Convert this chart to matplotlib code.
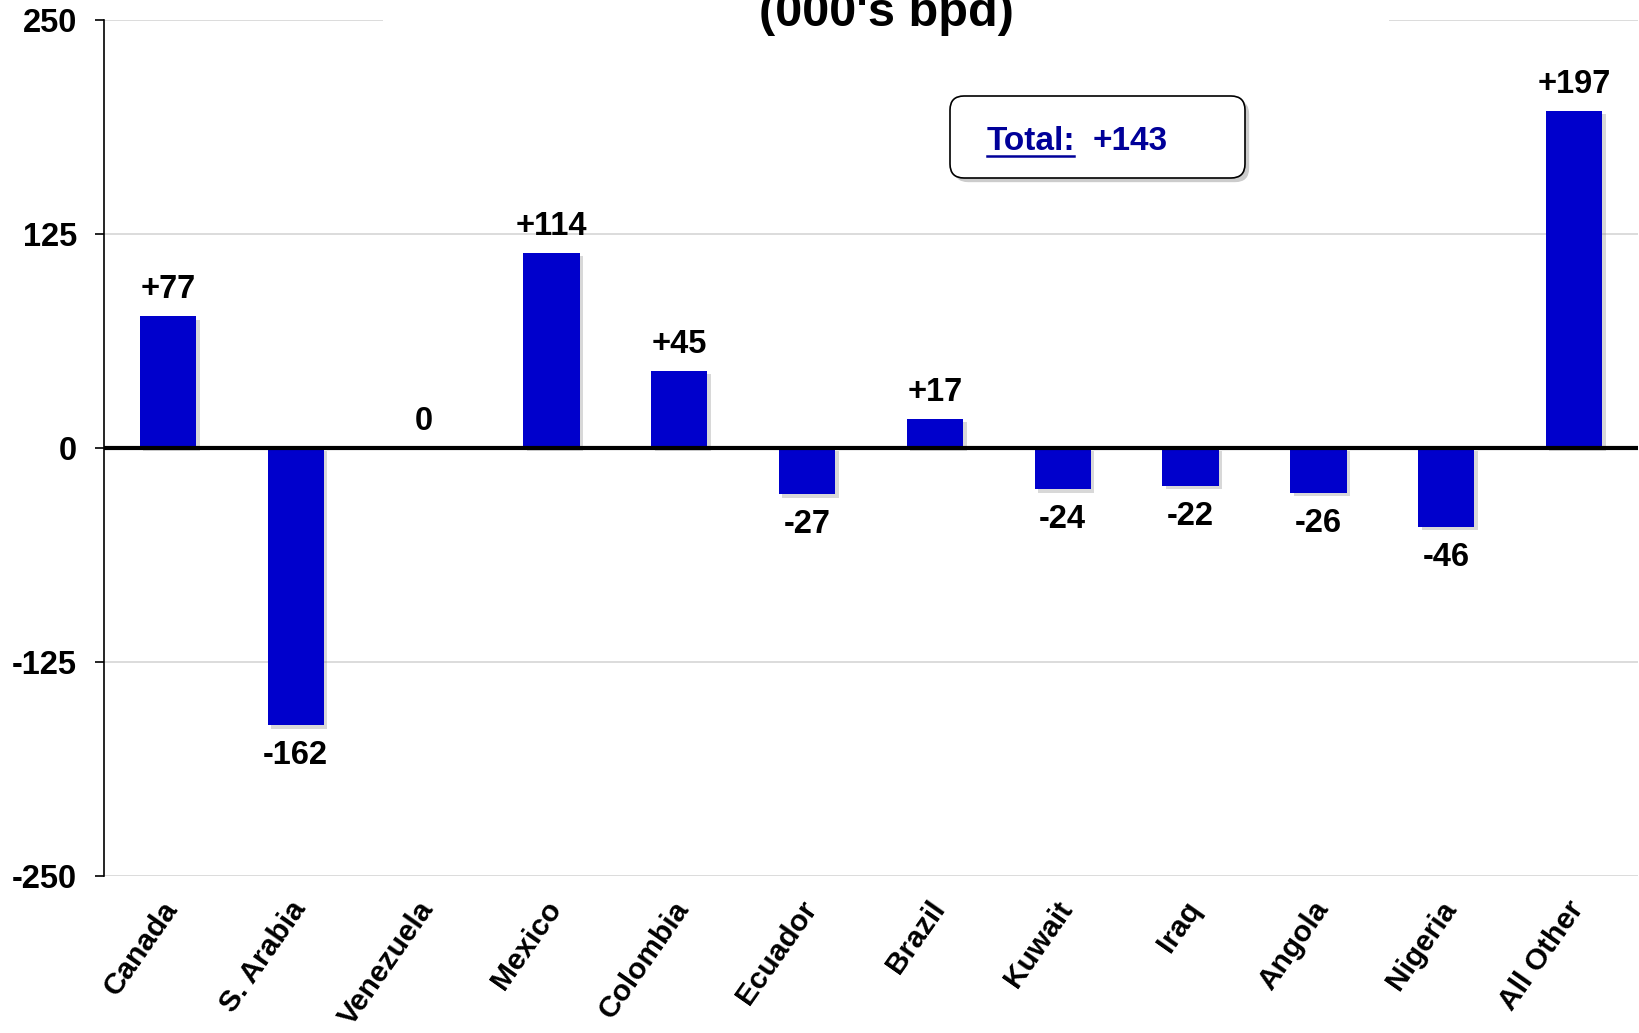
import matplotlib
matplotlib.use('Agg')
import matplotlib.pyplot as plt
import matplotlib.patches as mpatches
import matplotlib.patheffects as pe
from matplotlib.lines import Line2D
from matplotlib.transforms import IdentityTransform, ScaledTranslation

plt.rcParams['font.family'] = ['Liberation Sans', 'DejaVu Sans']
plt.rcParams['font.weight'] = 'bold'

countries = ['Canada', 'S. Arabia', 'Venezuela', 'Mexico', 'Colombia', 'Ecuador',
             'Brazil', 'Kuwait', 'Iraq', 'Angola', 'Nigeria', 'All Other']
changes = [77, -162, 0, 114, 45, -27, 17, -24, -22, -26, -46, 197]
yticks = [-250, -125, 0, 125, 250]
total_label = '+143'
title = "(000's bpd)"

BAR = '#0000CC'
BOX_TXT = '#000099'
W, H = 1640, 1033

fig = plt.figure(figsize=(W / 100, H / 100), dpi=100)
fig.patch.set_facecolor('white')
ax = fig.add_axes([104 / W, 1 - 876 / H, (1638 - 104) / W, (876 - 20) / H])

x = list(range(len(countries)))
bars = ax.bar(x, changes, width=0.44, color=BAR, zorder=3)
for b in bars:
    b.set_path_effects([pe.SimplePatchShadow(offset=(2.5, -2.5), shadow_rgbFace='#808080', alpha=0.3),
                        pe.Normal()])

for xi, v in zip(x, changes):
    lab = f'+{v}' if v > 0 else str(v)
    off = 19 if v >= 0 else -22
    ax.annotate(lab, (xi, v), xytext=(0, off), textcoords='offset points',
                ha='center', va='center', fontsize=23.5, fontweight='bold', color='black')

ax.set_xlim(-0.5, len(countries) - 0.5)
ax.set_ylim(-250, 250)
ax.set_yticks(yticks)
ax.set_yticklabels([str(t) for t in yticks])
ax.set_xticks(x)
ax.set_xticklabels(countries, rotation=55, ha='right', va='center', rotation_mode='anchor')
ax.tick_params(axis='x', length=0, pad=20, labelsize=21.5)
ax.tick_params(axis='y', length=6.5, width=1.2, pad=13, labelsize=23.5)
shift = ScaledTranslation(3 / 72, 0, fig.dpi_scale_trans)
for lbl in ax.get_xticklabels():
    lbl.set_transform(lbl.get_transform() + shift)

ax.yaxis.grid(True, color='#D9D9D9', lw=1.3, zorder=0)
ax.set_axisbelow(True)
for s in ['top', 'right', 'bottom']:
    ax.spines[s].set_visible(False)
ax.spines['left'].set_linewidth(1.2)
ax.axhline(0, color='black', lw=3, zorder=4)

# white band behind the (cropped) title
fig.add_artist(mpatches.Rectangle((383 / W, 1 - 60 / H), (1389 - 383) / W, 60 / H,
                                  transform=fig.transFigure, facecolor='white',
                                  edgecolor='none', zorder=5))
fig.text(886 / W, 1 - 26 / H, title, ha='center', va='baseline',
         fontsize=35, fontweight='bold', color='black', zorder=6)

# total box (pixel coords)
box = mpatches.FancyBboxPatch((950, H - 178), 295, 82, boxstyle='round,pad=0,rounding_size=14',
                              transform=IdentityTransform(), facecolor='white',
                              edgecolor='black', lw=1.2, zorder=6)
box.set_path_effects([pe.SimplePatchShadow(offset=(3, -3), shadow_rgbFace='#808080', alpha=0.4),
                      pe.Normal()])
fig.add_artist(box)
fig.text(987 / W, 1 - 150 / H, 'Total:', ha='left', va='baseline',
         fontsize=24, fontweight='bold', color=BOX_TXT, zorder=7)
fig.add_artist(Line2D([987 / W, 1074 / W], [1 - 156 / H, 1 - 156 / H], transform=fig.transFigure,
                      color=BOX_TXT, lw=1.8, zorder=7))
fig.text(1093 / W, 1 - 150 / H, total_label, ha='left', va='baseline',
         fontsize=24, fontweight='bold', color=BOX_TXT, zorder=7)

fig.savefig('out.png', dpi=100, facecolor='white')
